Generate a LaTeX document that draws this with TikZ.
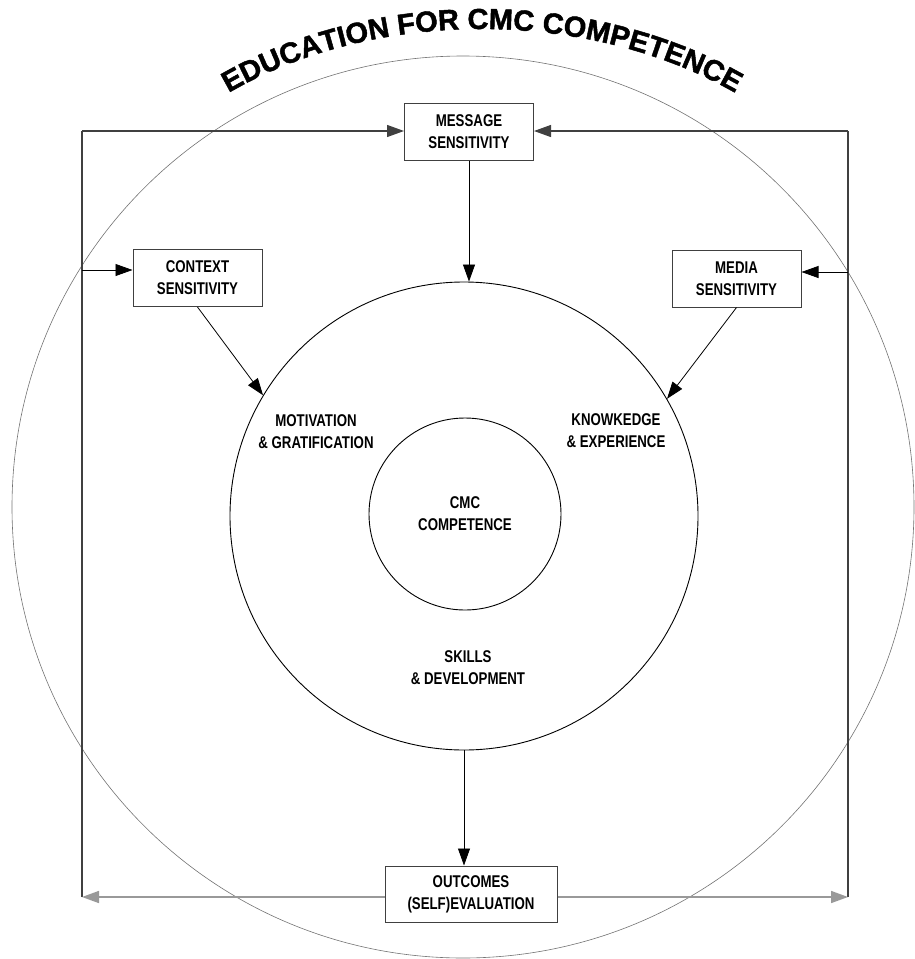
\documentclass[tikz,border=0pt]{standalone}
\usepackage{fontspec}
\setmainfont{Liberation Sans}[FakeStretch=0.8,BoldFeatures={FakeStretch=0.78}]
\newfontfamily\titlefont{Liberation Sans}[BoldFeatures={FakeBold=1.6}]
\usetikzlibrary{arrows.meta,decorations.text}
\newcommand\lblfont{\fontsize{17}{22}\selectfont\bfseries}
\begin{document}
\begin{tikzpicture}[x=1pt,y=-1pt,
  >={Triangle[length=17pt,width=12pt]},
  ring/.style={circle,draw=black,line width=0.9pt,inner sep=0pt},
  bigring/.style={circle,draw=black!55,line width=0.6pt,inner sep=0pt},
  box/.style={draw=black!75,line width=1pt,fill=white,align=center,font=\lblfont,inner sep=0pt,minimum width=129pt,minimum height=57pt},
  lbl/.style={align=center,font=\lblfont,inner sep=0pt},
  frame/.style={draw=black!75,line width=1.2pt},
  framelow/.style={draw=black!40,line width=1.6pt},
  conn/.style={draw=black,line width=0.8pt}]
\useasboundingbox (0,0) rectangle (914,959);

% circles
\node[bigring,minimum size=902pt] (outer) at (463,507) {};
\node[ring,minimum size=468pt] (mid) at (464,516) {};
\node[ring,minimum size=192pt] (inner) at (465,514) {};

% title
\path[decorate,decoration={text along path,text align=center,
  text={|\titlefont\bfseries\fontsize{29}{29}\selectfont|EDUCATION FOR CMC COMPETENCE}}]
  (220,98) .. controls (370,6) and (592,6) .. (744,98);

% boxes
\node[box] (msg) at (469,131.5) {MESSAGE\\SENSITIVITY};
\node[box] (ctx) at (197.5,278) {CONTEXT\\SENSITIVITY};
\node[box] (med) at (736.5,278.5) {MEDIA\\SENSITIVITY};
\node[box,minimum width=172pt,minimum height=56pt] (res) at (471,894) {OUTCOMES\\(SELF)EVALUATION};

% labels
\node[lbl] (mot) at (316,432) {MOTIVATION\\\& GRATIFICATION};
\node[lbl] (kno) at (616,431) {KNOWKEDGE\\\& EXPERIENCE};
\node[lbl] (cmc) at (465,514) {CMC\\COMPETENCE};
\node[lbl] (ski) at (468,668) {SKILLS\\\& DEVELOPMENT};

% frame corners
\coordinate (tl) at (82,131);
\coordinate (tr) at (848,131);
\coordinate (bl) at (82,897);
\coordinate (br) at (848,897);
\coordinate (cl) at (82,270);
\coordinate (cr) at (848,272);

\draw[frame] (bl) -- (tl);
\draw[frame] (br) -- (tr);
\draw[frame,->] (tl) -- (msg.west |- tl);
\draw[frame,->] (tr) -- (msg.east |- tr);
\draw[conn,->] (cl) -- (ctx.west |- cl);
\draw[conn,->] (cr) -- (med.east |- cr);
\draw[framelow,->] (res.west |- bl) -- (bl);
\draw[framelow,->] (res.east |- br) -- (br);

% connectors
\draw[conn,->] (msg.south) -- (msg.south |- mid.north);
\draw[conn,->] (ctx.south) -- (mid.149);
\draw[conn,->] (med.south) -- (mid.30);
\draw[conn,->] (mid.south) -- (mid.south |- res.north);
\end{tikzpicture}
\end{document}
